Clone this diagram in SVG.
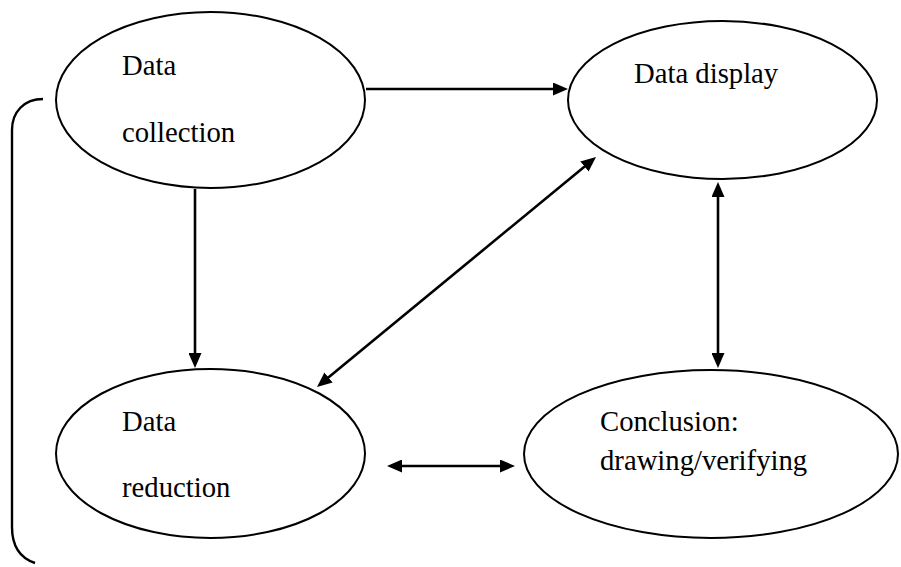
<svg xmlns="http://www.w3.org/2000/svg" width="901" height="567" viewBox="0 0 901 567">
<style>
.node ellipse{fill:#fff;stroke:#000;stroke-width:2}
.label{font-family:'Liberation Serif','Times New Roman',Tinos,'DejaVu Serif',serif;font-size:28.7px;fill:#000}
.conn line{stroke:#000;stroke-width:2.6;fill:none}
.bracket{stroke:#000;stroke-width:2.4;fill:none}
</style>
<defs>
<marker id="ah" viewBox="0 0 15 13" markerUnits="userSpaceOnUse" markerWidth="15" markerHeight="13" refX="5" refY="6.5" orient="auto-start-reverse">
<path d="M0,0 L15,6.5 L0,13 z" fill="#000"/>
</marker>
</defs>
<path class="bracket" d="M43,99 C24,99 12,112 12,130 L12,527 C12,546 20,558 35,563"/>
<g id="n-collection" class="node">
<ellipse cx="210.5" cy="100" rx="154.5" ry="88"/>
<text class="label" font-family="Liberation Serif, serif" x="122" y="75">Data</text>
<text class="label" font-family="Liberation Serif, serif" x="122" y="142">collection</text>
</g>
<g id="n-display" class="node">
<ellipse cx="722.5" cy="100" rx="154.5" ry="79"/>
<text class="label" font-family="Liberation Serif, serif" x="634" y="83">Data display</text>
</g>
<g id="n-reduction" class="node">
<ellipse cx="210.5" cy="453.5" rx="154.5" ry="84.5"/>
<text class="label" font-family="Liberation Serif, serif" x="122" y="431">Data</text>
<text class="label" font-family="Liberation Serif, serif" x="122" y="497">reduction</text>
</g>
<g id="n-conclusion" class="node">
<ellipse cx="711" cy="454" rx="187" ry="84"/>
<text class="label" font-family="Liberation Serif, serif" x="600" y="431">Conclusion:</text>
<text class="label" font-family="Liberation Serif, serif" x="600" y="470">drawing/verifying</text>
</g>
<g id="connectors" class="conn">
<line x1="366" y1="89" x2="558" y2="89" marker-end="url(#ah)"/>
<line x1="195" y1="189" x2="195" y2="358" marker-end="url(#ah)"/>
<line x1="588.3" y1="163.4" x2="324.7" y2="380.6" marker-start="url(#ah)" marker-end="url(#ah)"/>
<line x1="718" y1="192" x2="718" y2="358" marker-start="url(#ah)" marker-end="url(#ah)"/>
<line x1="397" y1="466" x2="505" y2="466" marker-start="url(#ah)" marker-end="url(#ah)"/>
</g>
</svg>
